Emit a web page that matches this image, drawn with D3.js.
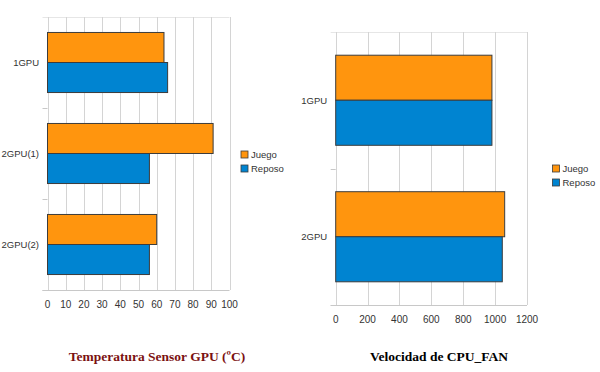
<!DOCTYPE html>
<html>
<head>
<meta charset="utf-8">
<script src="https://cdn.jsdelivr.net/npm/d3@7"></script>
<style>
  body { margin: 0; background: #fff; }
  svg { display: block; }
</style>
</head>
<body>
<script>
// data ---------------------------------------------------------------------
var series = ["Juego", "Reposo"];
var colors = ["#ff950e", "#0084d1"];

var tempCats = ["1GPU", "2GPU(1)", "2GPU(2)"];
var tempJuego = [64, 91, 60];
var tempReposo = [66, 56, 56];
var tempTicks = [0, 10, 20, 30, 40, 50, 60, 70, 80, 90, 100];

var fanCats = ["1GPU", "2GPU"];
var fanJuego = [980, 1060];
var fanReposo = [980, 1045];
var fanTicks = [0, 200, 400, 600, 800, 1000, 1200];

var svg = d3.select("body").append("svg")
  .attr("width", 600)
  .attr("height", 372);

// one horizontal grouped bar chart
function drawChart(o) {
  var g = svg.append("g");

  var x = d3.scaleLinear()
    .domain([0, o.ticks[o.ticks.length - 1]])
    .range([o.left, o.right]);

  var y = d3.scaleBand()
    .domain(o.cats)
    .range([o.top, o.bottom])
    .paddingInner(0.34)
    .paddingOuter(0.17);

  var sub = d3.scaleBand()
    .domain(series)
    .range([0, y.bandwidth()]);

  // light frame on top
  g.append("line")
    .attr("x1", o.left - 5).attr("x2", o.right)
    .attr("y1", o.top + 0.5).attr("y2", o.top + 0.5)
    .attr("stroke", "#e6e6e6");

  // vertical grid
  g.selectAll(".grid")
    .data(o.ticks)
    .enter().append("line")
    .attr("x1", function(d) { return Math.round(x(d)) + 0.5; })
    .attr("x2", function(d) { return Math.round(x(d)) + 0.5; })
    .attr("y1", o.top)
    .attr("y2", o.bottom)
    .attr("stroke", "#d4d4d4");

  // category separators on the left
  var seps = d3.range(o.cats.length + 1).map(function(i) {
    return o.top + i * (o.bottom - o.top) / o.cats.length;
  });
  g.selectAll(".sep")
    .data(seps.slice(1))
    .enter().append("line")
    .attr("x1", o.left - 5).attr("x2", o.left)
    .attr("y1", function(d) { return Math.round(d) + 0.5; })
    .attr("y2", function(d) { return Math.round(d) + 0.5; })
    .attr("stroke", "#c8c8c8");

  // bottom axis line
  g.append("line")
    .attr("x1", o.left - 5).attr("x2", o.right)
    .attr("y1", o.bottom + 0.5).attr("y2", o.bottom + 0.5)
    .attr("stroke", "#c8c8c8");

  // bars
  var rows = o.cats.map(function(c, i) {
    return { cat: c, vals: [o.juego[i], o.reposo[i]] };
  });
  var grp = g.selectAll(".row")
    .data(rows)
    .enter().append("g")
    .attr("transform", function(d) { return "translate(0," + y(d.cat) + ")"; });

  grp.selectAll("rect")
    .data(function(d) { return d.vals.map(function(v, k) { return { s: series[k], v: v, k: k }; }); })
    .enter().append("rect")
    .attr("x", x(0))
    .attr("y", function(d) { return sub(d.s); })
    .attr("width", function(d) { return x(d.v) - x(0); })
    .attr("height", sub.bandwidth())
    .attr("fill", function(d) { return colors[d.k]; })
    .attr("stroke", "#3c3c3c")
    .attr("stroke-width", 1);

  // category labels
  g.selectAll(".cat")
    .data(o.cats)
    .enter().append("text")
    .attr("x", o.left - 8.5)
    .attr("y", function(d) { return y(d) + y.bandwidth() / 2; })
    .attr("dy", "0.35em")
    .attr("text-anchor", "end")
    .attr("font-family", "Liberation Sans, Arial, sans-serif")
    .attr("font-size", "9.5px")
    .attr("fill", "#333")
    .text(function(d) { return d; });

  // tick labels
  g.selectAll(".tick")
    .data(o.ticks)
    .enter().append("text")
    .attr("x", function(d) { return x(d); })
    .attr("y", o.bottom + 18)
    .attr("text-anchor", "middle")
    .attr("font-family", "Liberation Sans, Arial, sans-serif")
    .attr("font-size", "10px")
    .attr("fill", "#333")
    .text(function(d) { return d; });

  // legend
  var leg = g.selectAll(".leg")
    .data(series)
    .enter().append("g")
    .attr("transform", function(d, i) { return "translate(" + o.legX + "," + (o.legY + i * 14) + ")"; });
  leg.append("rect")
    .attr("width", 7).attr("height", 7)
    .attr("fill", function(d, i) { return colors[i]; })
    .attr("stroke", "#3c3c3c")
    .attr("stroke-width", 0.8);
  leg.append("text")
    .attr("x", 10)
    .attr("y", 3.5)
    .attr("dy", "0.35em")
    .attr("font-family", "Liberation Sans, Arial, sans-serif")
    .attr("font-size", "9.5px")
    .attr("fill", "#333")
    .text(function(d) { return d; });

  // title
  g.append("text")
    .attr("x", o.titleX)
    .attr("y", 361)
    .attr("text-anchor", "middle")
    .attr("font-family", "Liberation Serif, Times New Roman, serif")
    .attr("font-weight", "bold")
    .attr("font-size", "13.5px")
    .attr("fill", o.titleColor)
    .text(o.title);
}

drawChart({
  cats: tempCats, juego: tempJuego, reposo: tempReposo, ticks: tempTicks,
  left: 47.5, right: 229.5, top: 17, bottom: 290,
  legX: 241, legY: 151,
  title: "Temperatura Sensor GPU (ºC)", titleX: 157, titleColor: "#7b1111"
});

drawChart({
  cats: fanCats, juego: fanJuego, reposo: fanReposo, ticks: fanTicks,
  left: 335.7, right: 527, top: 32, bottom: 305,
  legX: 552.5, legY: 165,
  title: "Velocidad de CPU_FAN", titleX: 439, titleColor: "#000"
});
</script>
</body>
</html>
